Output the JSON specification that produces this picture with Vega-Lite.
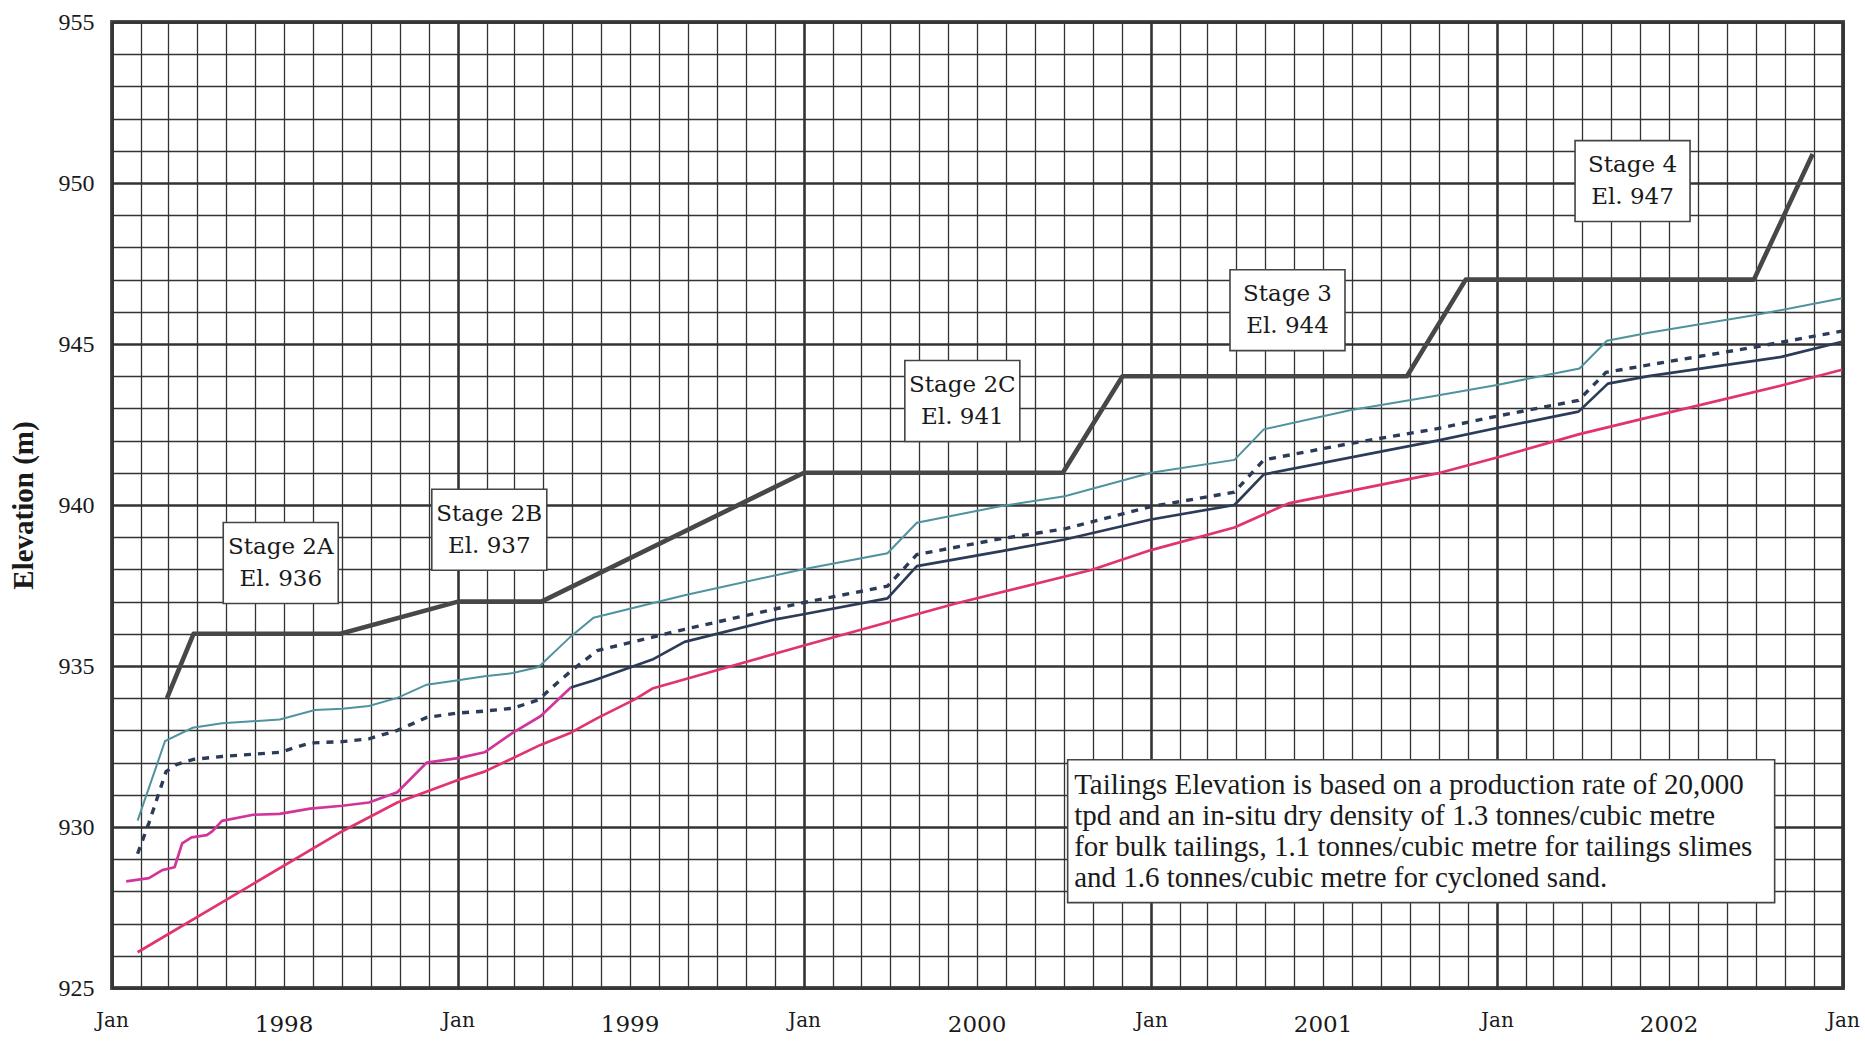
{
  "$schema": "https://vega.github.io/schema/vega-lite/v6.json",
  "width": 1731,
  "height": 966,
  "autosize": {"type": "none"},
  "padding": {"left": 112, "top": 22, "right": 22, "bottom": 58},
  "background": "white",
  "config": {
    "view": {"stroke": "#505050", "strokeWidth": 4},
    "axis": {"domain": false, "ticks": false, "labelOverlap": false, "labelFlush": false, "labelBound": false, "labelColor": "#1a1a1a"}
  },
  "datasets": {
    "series": [
      {"series": "crest", "date": "1998-02-28", "elev": 934.0},
      {"series": "crest", "date": "1998-03-28", "elev": 936.0},
      {"series": "crest", "date": "1998-08-30", "elev": 936.0},
      {"series": "crest", "date": "1999-01-01", "elev": 937.0},
      {"series": "crest", "date": "1999-03-30", "elev": 937.0},
      {"series": "crest", "date": "2000-01-01", "elev": 941.0},
      {"series": "crest", "date": "2000-09-30", "elev": 941.0},
      {"series": "crest", "date": "2000-12-02", "elev": 944.0},
      {"series": "crest", "date": "2001-09-28", "elev": 944.0},
      {"series": "crest", "date": "2001-11-29", "elev": 947.0},
      {"series": "crest", "date": "2002-09-29", "elev": 947.0},
      {"series": "crest", "date": "2002-11-30", "elev": 950.9},

      {"series": "cyan", "date": "1998-01-28", "elev": 930.2},
      {"series": "cyan", "date": "1998-02-26", "elev": 932.67},
      {"series": "cyan", "date": "1998-03-27", "elev": 933.08},
      {"series": "cyan", "date": "1998-04-27", "elev": 933.22},
      {"series": "cyan", "date": "1998-06-27", "elev": 933.34},
      {"series": "cyan", "date": "1998-08-03", "elev": 933.63},
      {"series": "cyan", "date": "1998-09-01", "elev": 933.67},
      {"series": "cyan", "date": "1998-09-29", "elev": 933.76},
      {"series": "cyan", "date": "1998-10-29", "elev": 934.01},
      {"series": "cyan", "date": "1998-11-29", "elev": 934.42},
      {"series": "cyan", "date": "1999-01-01", "elev": 934.56},
      {"series": "cyan", "date": "1999-01-29", "elev": 934.68},
      {"series": "cyan", "date": "1999-02-28", "elev": 934.78},
      {"series": "cyan", "date": "1999-03-27", "elev": 934.97},
      {"series": "cyan", "date": "1999-04-30", "elev": 935.92},
      {"series": "cyan", "date": "1999-05-24", "elev": 936.5},
      {"series": "cyan", "date": "1999-08-28", "elev": 937.2},
      {"series": "cyan", "date": "1999-12-30", "elev": 938.0},
      {"series": "cyan", "date": "2000-03-29", "elev": 938.5},
      {"series": "cyan", "date": "2000-04-29", "elev": 939.45},
      {"series": "cyan", "date": "2000-07-26", "elev": 939.96},
      {"series": "cyan", "date": "2000-10-02", "elev": 940.27},
      {"series": "cyan", "date": "2001-01-01", "elev": 941.0},
      {"series": "cyan", "date": "2001-03-30", "elev": 941.4},
      {"series": "cyan", "date": "2001-04-30", "elev": 942.35},
      {"series": "cyan", "date": "2001-07-30", "elev": 942.94},
      {"series": "cyan", "date": "2001-10-30", "elev": 943.4},
      {"series": "cyan", "date": "2002-01-01", "elev": 943.73},
      {"series": "cyan", "date": "2002-03-29", "elev": 944.24},
      {"series": "cyan", "date": "2002-04-27", "elev": 945.1},
      {"series": "cyan", "date": "2002-06-10", "elev": 945.35},
      {"series": "cyan", "date": "2002-09-29", "elev": 945.89},
      {"series": "cyan", "date": "2002-12-31", "elev": 946.42},

      {"series": "dashed", "date": "1998-01-28", "elev": 929.17},
      {"series": "dashed", "date": "1998-02-09", "elev": 930.13},
      {"series": "dashed", "date": "1998-02-27", "elev": 931.72},
      {"series": "dashed", "date": "1998-03-10", "elev": 931.94},
      {"series": "dashed", "date": "1998-03-28", "elev": 932.1},
      {"series": "dashed", "date": "1998-04-27", "elev": 932.19},
      {"series": "dashed", "date": "1998-06-27", "elev": 932.32},
      {"series": "dashed", "date": "1998-07-29", "elev": 932.61},
      {"series": "dashed", "date": "1998-09-01", "elev": 932.65},
      {"series": "dashed", "date": "1998-09-29", "elev": 932.74},
      {"series": "dashed", "date": "1998-10-29", "elev": 933.0},
      {"series": "dashed", "date": "1998-11-29", "elev": 933.4},
      {"series": "dashed", "date": "1999-01-01", "elev": 933.54},
      {"series": "dashed", "date": "1999-01-29", "elev": 933.6},
      {"series": "dashed", "date": "1999-02-28", "elev": 933.69},
      {"series": "dashed", "date": "1999-03-27", "elev": 933.95},
      {"series": "dashed", "date": "1999-04-10", "elev": 934.33},
      {"series": "dashed", "date": "1999-04-30", "elev": 934.84},
      {"series": "dashed", "date": "1999-05-28", "elev": 935.48},
      {"series": "dashed", "date": "1999-08-28", "elev": 936.14},
      {"series": "dashed", "date": "1999-12-30", "elev": 936.96},
      {"series": "dashed", "date": "2000-03-29", "elev": 937.48},
      {"series": "dashed", "date": "2000-04-29", "elev": 938.46},
      {"series": "dashed", "date": "2000-07-26", "elev": 938.95},
      {"series": "dashed", "date": "2000-10-02", "elev": 939.26},
      {"series": "dashed", "date": "2001-01-01", "elev": 939.95},
      {"series": "dashed", "date": "2001-03-30", "elev": 940.4},
      {"series": "dashed", "date": "2001-04-30", "elev": 941.4},
      {"series": "dashed", "date": "2001-07-30", "elev": 941.91},
      {"series": "dashed", "date": "2001-10-30", "elev": 942.37},
      {"series": "dashed", "date": "2002-01-01", "elev": 942.76},
      {"series": "dashed", "date": "2002-03-28", "elev": 943.25},
      {"series": "dashed", "date": "2002-04-26", "elev": 944.12},
      {"series": "dashed", "date": "2002-06-10", "elev": 944.35},
      {"series": "dashed", "date": "2002-09-29", "elev": 944.9},
      {"series": "dashed", "date": "2002-12-31", "elev": 945.4},

      {"series": "navy", "date": "1999-04-30", "elev": 934.33},
      {"series": "navy", "date": "1999-05-24", "elev": 934.55},
      {"series": "navy", "date": "1999-07-25", "elev": 935.2},
      {"series": "navy", "date": "1999-08-28", "elev": 935.75},
      {"series": "navy", "date": "1999-12-02", "elev": 936.45},
      {"series": "navy", "date": "1999-12-30", "elev": 936.6},
      {"series": "navy", "date": "2000-03-29", "elev": 937.1},
      {"series": "navy", "date": "2000-04-29", "elev": 938.1},
      {"series": "navy", "date": "2000-07-26", "elev": 938.56},
      {"series": "navy", "date": "2000-10-02", "elev": 938.93},
      {"series": "navy", "date": "2001-01-01", "elev": 939.55},
      {"series": "navy", "date": "2001-03-30", "elev": 940.0},
      {"series": "navy", "date": "2001-04-30", "elev": 940.95},
      {"series": "navy", "date": "2001-10-30", "elev": 942.0},
      {"series": "navy", "date": "2002-01-01", "elev": 942.39},
      {"series": "navy", "date": "2002-03-28", "elev": 942.9},
      {"series": "navy", "date": "2002-04-28", "elev": 943.77},
      {"series": "navy", "date": "2002-06-10", "elev": 944.0},
      {"series": "navy", "date": "2002-10-28", "elev": 944.6},
      {"series": "navy", "date": "2002-12-31", "elev": 945.07},

      {"series": "magenta", "date": "1998-01-16", "elev": 928.31},
      {"series": "magenta", "date": "1998-02-09", "elev": 928.41},
      {"series": "magenta", "date": "1998-02-23", "elev": 928.66},
      {"series": "magenta", "date": "1998-03-08", "elev": 928.75},
      {"series": "magenta", "date": "1998-03-16", "elev": 929.49},
      {"series": "magenta", "date": "1998-03-26", "elev": 929.68},
      {"series": "magenta", "date": "1998-04-11", "elev": 929.75},
      {"series": "magenta", "date": "1998-04-17", "elev": 929.87},
      {"series": "magenta", "date": "1998-04-27", "elev": 930.19},
      {"series": "magenta", "date": "1998-05-30", "elev": 930.38},
      {"series": "magenta", "date": "1998-06-27", "elev": 930.41},
      {"series": "magenta", "date": "1998-07-29", "elev": 930.57},
      {"series": "magenta", "date": "1998-09-01", "elev": 930.66},
      {"series": "magenta", "date": "1998-09-29", "elev": 930.76},
      {"series": "magenta", "date": "1998-10-29", "elev": 931.08},
      {"series": "magenta", "date": "1998-11-29", "elev": 932.0},
      {"series": "magenta", "date": "1999-01-01", "elev": 932.14},
      {"series": "magenta", "date": "1999-01-29", "elev": 932.32},
      {"series": "magenta", "date": "1999-02-28", "elev": 932.93},
      {"series": "magenta", "date": "1999-03-29", "elev": 933.44},
      {"series": "magenta", "date": "1999-04-30", "elev": 934.33},

      {"series": "crimson", "date": "1998-01-28", "elev": 926.11},
      {"series": "crimson", "date": "1998-09-01", "elev": 929.87},
      {"series": "crimson", "date": "1998-10-29", "elev": 930.76},
      {"series": "crimson", "date": "1999-01-01", "elev": 931.46},
      {"series": "crimson", "date": "1999-01-29", "elev": 931.72},
      {"series": "crimson", "date": "1999-03-29", "elev": 932.55},
      {"series": "crimson", "date": "1999-04-30", "elev": 932.93},
      {"series": "crimson", "date": "1999-05-28", "elev": 933.38},
      {"series": "crimson", "date": "1999-07-07", "elev": 933.97},
      {"series": "crimson", "date": "1999-07-25", "elev": 934.3},
      {"series": "crimson", "date": "1999-12-30", "elev": 935.62},
      {"series": "crimson", "date": "2000-06-09", "elev": 936.94},
      {"series": "crimson", "date": "2000-10-30", "elev": 937.98},
      {"series": "crimson", "date": "2001-01-01", "elev": 938.6},
      {"series": "crimson", "date": "2001-03-30", "elev": 939.3},
      {"series": "crimson", "date": "2001-05-26", "elev": 940.05},
      {"series": "crimson", "date": "2001-10-30", "elev": 940.98},
      {"series": "crimson", "date": "2002-01-04", "elev": 941.5},
      {"series": "crimson", "date": "2002-03-29", "elev": 942.2},
      {"series": "crimson", "date": "2002-06-11", "elev": 942.73},
      {"series": "crimson", "date": "2002-10-28", "elev": 943.71},
      {"series": "crimson", "date": "2002-12-31", "elev": 944.2}
    ],
    "stages": [
      {"date": "1998-06-28", "elev": 938.2, "label": "Stage 2A\nEl. 936"},
      {"date": "1999-02-03", "elev": 939.23, "label": "Stage 2B\nEl. 937"},
      {"date": "2000-06-16", "elev": 943.23, "label": "Stage 2C\nEl. 941"},
      {"date": "2001-05-25", "elev": 946.05, "label": "Stage 3\nEl. 944"},
      {"date": "2002-05-24", "elev": 950.06, "label": "Stage 4\nEl. 947"}
    ],
    "note": [
      {"date": "2001-10-13", "elev": 929.87, "label": "Tailings Elevation is based on a production rate of 20,000\ntpd and an in-situ dry density of 1.3 tonnes/cubic metre\nfor bulk tailings, 1.1 tonnes/cubic metre for tailings slimes\nand 1.6 tonnes/cubic metre for cycloned sand."}
    ]
  },
  "encoding": {
    "x": {
      "field": "date", "type": "temporal",
      "scale": {"type": "utc", "domain": [{"year": 1998, "month": 1, "date": 1, "utc": true}, {"year": 2003, "month": 1, "date": 1, "utc": true}]},
      "axis": {
        "title": null,
        "grid": true,
        "gridColor": "#333333",
        "gridOpacity": 1,
        "tickCount": 200,
        "gridWidth": {"condition": {"test": "utcmonth(datum.value) == 0", "value": 2.6}, "value": 1.3},
        "values": [
          {"year": 1998, "month": 1, "date": 1, "utc": true}, {"year": 1998, "month": 2, "date": 1, "utc": true}, {"year": 1998, "month": 3, "date": 1, "utc": true}, {"year": 1998, "month": 4, "date": 1, "utc": true}, {"year": 1998, "month": 5, "date": 1, "utc": true}, {"year": 1998, "month": 6, "date": 1, "utc": true}, {"year": 1998, "month": 7, "date": 1, "utc": true}, {"year": 1998, "month": 8, "date": 1, "utc": true}, {"year": 1998, "month": 9, "date": 1, "utc": true}, {"year": 1998, "month": 10, "date": 1, "utc": true}, {"year": 1998, "month": 11, "date": 1, "utc": true}, {"year": 1998, "month": 12, "date": 1, "utc": true},
          {"year": 1999, "month": 1, "date": 1, "utc": true}, {"year": 1999, "month": 2, "date": 1, "utc": true}, {"year": 1999, "month": 3, "date": 1, "utc": true}, {"year": 1999, "month": 4, "date": 1, "utc": true}, {"year": 1999, "month": 5, "date": 1, "utc": true}, {"year": 1999, "month": 6, "date": 1, "utc": true}, {"year": 1999, "month": 7, "date": 1, "utc": true}, {"year": 1999, "month": 8, "date": 1, "utc": true}, {"year": 1999, "month": 9, "date": 1, "utc": true}, {"year": 1999, "month": 10, "date": 1, "utc": true}, {"year": 1999, "month": 11, "date": 1, "utc": true}, {"year": 1999, "month": 12, "date": 1, "utc": true},
          {"year": 2000, "month": 1, "date": 1, "utc": true}, {"year": 2000, "month": 2, "date": 1, "utc": true}, {"year": 2000, "month": 3, "date": 1, "utc": true}, {"year": 2000, "month": 4, "date": 1, "utc": true}, {"year": 2000, "month": 5, "date": 1, "utc": true}, {"year": 2000, "month": 6, "date": 1, "utc": true}, {"year": 2000, "month": 7, "date": 1, "utc": true}, {"year": 2000, "month": 8, "date": 1, "utc": true}, {"year": 2000, "month": 9, "date": 1, "utc": true}, {"year": 2000, "month": 10, "date": 1, "utc": true}, {"year": 2000, "month": 11, "date": 1, "utc": true}, {"year": 2000, "month": 12, "date": 1, "utc": true},
          {"year": 2001, "month": 1, "date": 1, "utc": true}, {"year": 2001, "month": 2, "date": 1, "utc": true}, {"year": 2001, "month": 3, "date": 1, "utc": true}, {"year": 2001, "month": 4, "date": 1, "utc": true}, {"year": 2001, "month": 5, "date": 1, "utc": true}, {"year": 2001, "month": 6, "date": 1, "utc": true}, {"year": 2001, "month": 7, "date": 1, "utc": true}, {"year": 2001, "month": 8, "date": 1, "utc": true}, {"year": 2001, "month": 9, "date": 1, "utc": true}, {"year": 2001, "month": 10, "date": 1, "utc": true}, {"year": 2001, "month": 11, "date": 1, "utc": true}, {"year": 2001, "month": 12, "date": 1, "utc": true},
          {"year": 2002, "month": 1, "date": 1, "utc": true}, {"year": 2002, "month": 2, "date": 1, "utc": true}, {"year": 2002, "month": 3, "date": 1, "utc": true}, {"year": 2002, "month": 4, "date": 1, "utc": true}, {"year": 2002, "month": 5, "date": 1, "utc": true}, {"year": 2002, "month": 6, "date": 1, "utc": true}, {"year": 2002, "month": 7, "date": 1, "utc": true}, {"year": 2002, "month": 8, "date": 1, "utc": true}, {"year": 2002, "month": 9, "date": 1, "utc": true}, {"year": 2002, "month": 10, "date": 1, "utc": true}, {"year": 2002, "month": 11, "date": 1, "utc": true}, {"year": 2002, "month": 12, "date": 1, "utc": true},
          {"year": 2003, "month": 1, "date": 1, "utc": true}
        ],
        "labelExpr": "utcmonth(datum.value) == 0 ? 'Jan' : (utcmonth(datum.value) == 6 ? '' + utcyear(datum.value) : '')",
        "labelFont": "DejaVu Serif",
        "labelFontSize": {"condition": {"test": "utcmonth(datum.value) == 0", "value": 20}, "value": 23},
        "labelPadding": {"condition": {"test": "utcmonth(datum.value) == 0", "value": 22}, "value": 25}
      }
    },
    "y": {
      "field": "elev", "type": "quantitative",
      "scale": {"domain": [925, 955], "nice": false, "zero": false},
      "axis": {
        "title": "Elevation (m)",
        "titleFont": "Liberation Serif",
        "titleFontSize": 29,
        "titleFontWeight": "bold",
        "titleColor": "#1a1a1a",
        "titlePadding": 20,
        "grid": true,
        "gridColor": "#333333",
        "gridOpacity": 1,
        "tickCount": 200,
        "gridWidth": {"condition": {"test": "datum.value % 5 == 0", "value": 2.6}, "value": 1.3},
        "values": [925, 926, 927, 928, 929, 930, 931, 932, 933, 934, 935, 936, 937, 938, 939, 940, 941, 942, 943, 944, 945, 946, 947, 948, 949, 950, 951, 952, 953, 954, 955],
        "labelExpr": "datum.value % 5 == 0 ? '' + datum.value : ''",
        "labelFont": "Liberation Serif",
        "labelFontSize": 24,
        "labelPadding": 18
      }
    }
  },
  "layer": [
    {
      "data": {"name": "series"},
      "transform": [{"filter": "datum.series == 'crimson' || datum.series == 'magenta' || datum.series == 'navy'"}],
      "mark": {"type": "line", "interpolate": "linear", "strokeWidth": 2.7, "strokeJoin": "round"},
      "encoding": {
        "detail": {"field": "series"},
        "color": {
          "field": "series", "type": "nominal", "legend": null,
          "scale": {"domain": ["crimson", "magenta", "navy"], "range": ["#e0336f", "#d1359a", "#2c3b58"]}
        },
        "order": {"field": "date", "type": "temporal"}
      }
    },
    {
      "data": {"name": "series"},
      "transform": [{"filter": "datum.series == 'dashed'"}],
      "mark": {"type": "line", "interpolate": "linear", "strokeWidth": 3.4, "strokeDash": [7, 7], "color": "#2c3b58"},
      "encoding": {"order": {"field": "date", "type": "temporal"}}
    },
    {
      "data": {"name": "series"},
      "transform": [{"filter": "datum.series == 'cyan'"}],
      "mark": {"type": "line", "interpolate": "linear", "strokeWidth": 2, "color": "#50939e"},
      "encoding": {"order": {"field": "date", "type": "temporal"}}
    },
    {
      "data": {"name": "series"},
      "transform": [{"filter": "datum.series == 'crest'"}],
      "mark": {"type": "line", "interpolate": "linear", "strokeWidth": 4.6, "strokeJoin": "round", "color": "#474747"},
      "encoding": {"order": {"field": "date", "type": "temporal"}}
    },
    {
      "data": {"name": "stages"},
      "mark": {"type": "point", "shape": "M-1,-0.704H1V0.704H-1Z", "size": 13225, "filled": true, "fill": "white", "stroke": "#444444", "strokeWidth": 1.6, "opacity": 1}
    },
    {
      "data": {"name": "stages"},
      "mark": {"type": "text", "font": "DejaVu Serif", "fontSize": 23, "lineBreak": "\n", "lineHeight": 32, "align": "center", "baseline": "middle", "dy": -16, "color": "#1a1a1a"},
      "encoding": {"text": {"field": "label"}}
    },
    {
      "data": {"name": "note"},
      "mark": {"type": "point", "shape": "M-1,-0.202H1V0.202H-1Z", "size": 499849, "filled": true, "fill": "white", "stroke": "#444444", "strokeWidth": 1.6, "opacity": 1}
    },
    {
      "data": {"name": "note"},
      "mark": {"type": "text", "font": "Liberation Serif", "fontSize": 29, "lineBreak": "\n", "lineHeight": 31, "align": "left", "baseline": "middle", "dx": -347, "dy": -46.5, "color": "#1a1a1a"},
      "encoding": {"text": {"field": "label"}}
    }
  ]
}
